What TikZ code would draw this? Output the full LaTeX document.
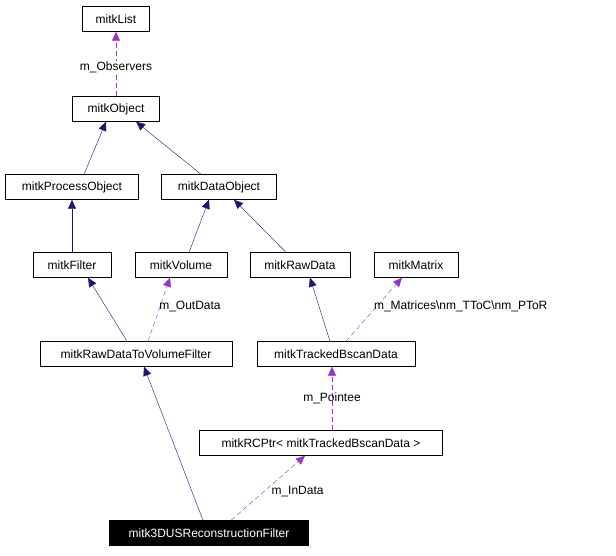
\documentclass[tikz,border=0pt]{standalone}
\usepackage{fontspec}
\setmainfont{Liberation Sans}
\usetikzlibrary{arrows.meta,calc}
\definecolor{inh}{HTML}{191970}
\definecolor{use}{HTML}{9A32CD}
\begin{document}
\begin{tikzpicture}[x=1pt,y=-1pt,
  box/.style={draw,fill=white,inner sep=0pt,minimum height=25pt,font=\fontsize{12}{14}\selectfont,anchor=center},
  inh/.style={draw=inh,-{Triangle[length=9pt,width=8pt,fill=inh]}},
  use/.style={draw=use,dashed,dash pattern=on 5pt off 3pt,-{Triangle[length=9pt,width=8pt,fill=use]}},
  lbl/.style={font=\fontsize{12}{14}\selectfont,fill=white,inner sep=1pt}]
\useasboundingbox (0,0) rectangle (616,555);
\node[box,minimum width=67pt] (list) at (116,19) {mitkList};
\node[box,minimum width=87pt] (obj) at (116,109) {mitkObject};
\node[box,minimum width=133pt] (po) at (72,187) {mitkProcessObject};
\node[box,minimum width=115pt] (do) at (219,187) {mitkDataObject};
\node[box,minimum width=78pt] (fil) at (72,265) {mitkFilter};
\node[box,minimum width=92pt] (vol) at (181,265) {mitkVolume};
\node[box,minimum width=100pt] (raw) at (300,265) {mitkRawData};
\node[box,minimum width=84pt] (mat) at (416,265) {mitkMatrix};
\node[box,minimum width=192pt] (rdv) at (136,354) {mitkRawDataToVolumeFilter};
\node[box,minimum width=158pt] (tbd) at (336,354) {mitkTrackedBscanData};
\node[box,minimum width=243pt] (rc) at (321,443) {mitkRCPtr< mitkTrackedBscanData >};
\node[box,minimum width=199pt,fill=black,text=white] (us) at (209,533) {mitk3DUSReconstructionFilter};

\draw[use] (obj.north) -- node[lbl,pos=0.45]{m\_Observers} (list.south);
\draw[inh] ($(po.north)+(12,0)$) -- ($(obj.south)+(-10,0)$);
\draw[inh] ($(do.north)+(-18,0)$) -- ($(obj.south)+(20,0)$);
\draw[inh] (fil.north) -- (po.south);
\draw[inh] ($(vol.north)+(8,0)$) -- ($(do.south)+(-10,0)$);
\draw[inh] ($(raw.north)+(-14,0)$) -- ($(do.south)+(15,0)$);
\draw[inh] ($(rdv.north)+(-9,0)$) -- ($(fil.south)+(16,0)$);
\draw[use] ($(rdv.north)+(12,0)$) -- node[lbl,pos=0.55,anchor=west,fill=none,xshift=-2pt]{m\_OutData} ($(vol.south)+(-11,0)$);
\draw[inh] ($(tbd.north)+(-6,0)$) -- ($(raw.south)+(10,0)$);
\draw[use] ($(tbd.north)+(10,0)$) -- node[lbl,pos=0.55,anchor=west,fill=none,xshift=-4pt]{m\_Matrices\textbackslash nm\_TToC\textbackslash nm\_PToR} ($(mat.south)+(-14,0)$);
\draw[use] ($(rc.north)+(11,0)$) -- node[lbl,pos=0.5,fill=none]{m\_Pointee} ($(tbd.south)+(-4,0)$);
\draw[inh] ($(us.north)+(-6,0)$) -- ($(rdv.south)+(8,0)$);
\draw[use] ($(us.north)+(22,0)$) -- node[lbl,pos=0.45,anchor=west,fill=none,xshift=6pt]{m\_InData} ($(rc.south)+(-16,0)$);
\end{tikzpicture}
\end{document}
